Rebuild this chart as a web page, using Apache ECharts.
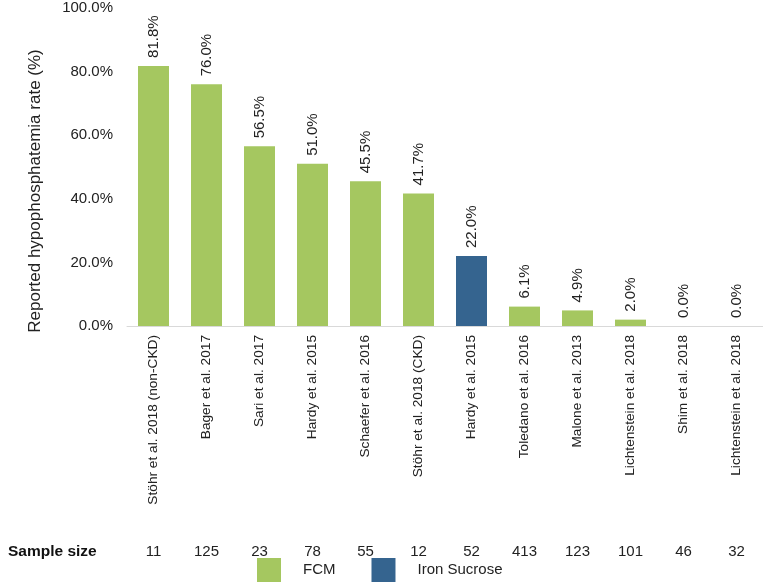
<!DOCTYPE html>
<html>
<head>
<meta charset="utf-8">
<script src="https://cdn.jsdelivr.net/npm/echarts@6/dist/echarts.min.js"></script>
<style>html,body{margin:0;padding:0;background:#fff}#c{width:763px;height:583px}</style>
</head>
<body>
<div id="c"></div>
<script>
const categories = ['Stöhr et al. 2018 (non-CKD)','Bager et al. 2017','Sari et al. 2017','Hardy et al. 2015','Schaefer et al. 2016','Stöhr et al. 2018 (CKD)','Hardy et al. 2015','Toledano et al. 2016','Malone et al. 2013','Lichtenstein et al. 2018','Shim et al. 2018','Lichtenstein et al. 2018'];
const sampleSizes = ['11','125','23','78','55','12','52','413','123','101','46','32'];
const fcmValues = [81.8, 76.0, 56.5, 51.0, 45.5, 41.7, null, 6.1, 4.9, 2.0, 0.0, 0.0];
const ironSucroseValues = [null, null, null, null, null, null, 22.0, null, null, null, null, null];
const yTicks = [0, 20, 40, 60, 80, 100];

const FONT = '"Liberation Sans", Arial, sans-serif';
const chart = echarts.init(document.getElementById('c'));
const labelCfg = {
  show: true, position: 'top', rotate: 90, align: 'left', verticalAlign: 'middle',
  distance: 8, fontSize: 15, color: '#222', fontFamily: FONT,
  formatter: p => p.value == null ? '' : p.value.toFixed(1) + '%'
};
chart.setOption({
  animation: false,
  grid: { left: 127, right: 0, top: 8, bottom: 257, containLabel: false },
  legend: {
    left: 257, top: 558, padding: 0, itemWidth: 24, itemHeight: 24, itemGap: 36,
    icon: 'rect',
    textStyle: { fontSize: 15, color: '#222', fontFamily: FONT, padding: [0, 0, 0, 17] },
    data: ['FCM', 'Iron Sucrose']
  },
  xAxis: [
    {
      type: 'category', data: categories, position: 'bottom',
      axisLine: { lineStyle: { color: '#d9d9d9', width: 1 } },
      axisTick: { show: false },
      axisLabel: { rotate: 90, fontSize: 13.7, color: '#222', fontFamily: FONT, margin: 9, interval: 0 }
    },
    {
      type: 'category', data: sampleSizes, position: 'bottom', offset: 0,
      axisLine: { show: false }, axisTick: { show: false },
      axisLabel: { fontSize: 15, color: '#222', fontFamily: FONT, margin: 218, interval: 0 }
    }
  ],
  yAxis: {
    type: 'value', min: 0, max: 100, interval: 20,
    axisLine: { show: false }, axisTick: { show: false }, splitLine: { show: false },
    axisLabel: { fontSize: 15, color: '#222', fontFamily: FONT, margin: 14, formatter: v => v.toFixed(1) + '%' }
  },
  series: [
    { name: 'FCM', type: 'bar', data: fcmValues, barWidth: 31, barGap: '-100%', itemStyle: { color: '#A5C760' }, label: labelCfg },
    { name: 'Iron Sucrose', type: 'bar', data: ironSucroseValues, barWidth: 31, itemStyle: { color: '#35648F' }, label: labelCfg }
  ],
  graphic: [
    { type: 'text', left: 8, top: 544, style: { text: 'Sample size', fontSize: 15.5, fontWeight: 'bold', fill: '#111', fontFamily: FONT } },
    { type: 'text', x: 35, y: 191, rotation: Math.PI / 2,
      style: { text: 'Reported hypophosphatemia rate (%)', fontSize: 17, fill: '#222', fontFamily: FONT, align: 'center', verticalAlign: 'middle' } }
  ]
});
</script>
</body>
</html>
